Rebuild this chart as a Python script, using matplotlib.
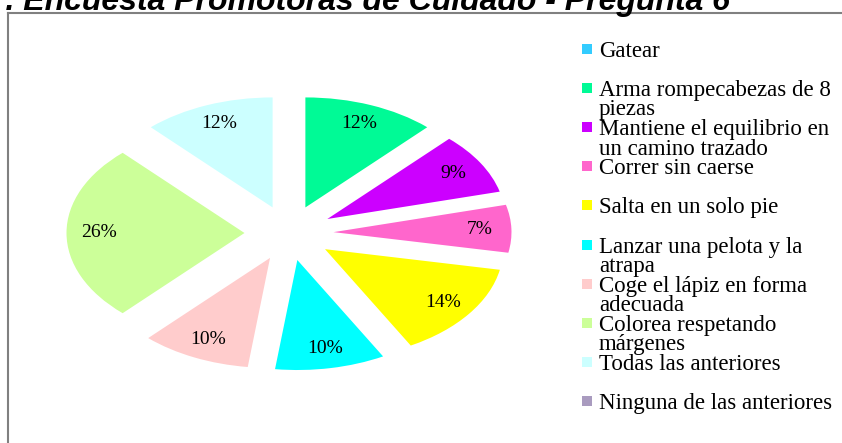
import matplotlib.pyplot as plt
from matplotlib.lines import Line2D
from matplotlib.patches import Rectangle

titulo = 'Gráfico 7. Encuesta Promotoras de Cuidado - Pregunta 6'
categorias = [
    'Gatear',
    'Arma rompecabezas de 8\npiezas',
    'Mantiene el equilibrio en\nun camino trazado',
    'Correr sin caerse',
    'Salta en un solo pie',
    'Lanzar una pelota y la\natrapa',
    'Coge el lápiz en forma\nadecuada',
    'Colorea respetando\nmárgenes',
    'Todas las anteriores',
    'Ninguna de las anteriores',
]
porcentajes = [0, 12, 9, 7, 14, 10, 10, 26, 12, 0]
colores = ['#33CCFF', '#00FA96', '#CC00FF', '#FF66CC', '#FFFF00',
           '#00FFFF', '#FFCCCC', '#CCFF99', '#CCFFFF', '#A99BBF']

W, H = 842, 443
fig = plt.figure(figsize=(W / 100, H / 100), dpi=100)

# pie is drawn as an ellipse: one unit is 178 px across and 110 px tall
cx, cy = 289, 210
rx, ry = 178, 110
ax = fig.add_axes([(cx - 1.5 * rx) / W, (cy - 1.5 * ry) / H, 3 * rx / W, 3 * ry / H])
ax.pie(porcentajes, colors=colores, startangle=90, counterclock=False,
       explode=[0.25] * len(porcentajes),
       autopct=lambda p: f'{p:.0f}%' if p > 0.5 else '',
       pctdistance=0.82,
       wedgeprops=dict(linewidth=0),
       textprops=dict(family='Liberation Serif', fontsize=14))
ax.set_aspect('auto')
ax.set_xlim(-1.5, 1.5)
ax.set_ylim(-1.5, 1.5)
ax.axis('off')

# legend on the right, one slot per category
for i, (lab, col) in enumerate(zip(categorias, colores)):
    y = 49 + 39.1 * i
    fig.patches.append(Rectangle((582 / W, (H - y - 5) / H), 10 / W, 10 / H,
                                 transform=fig.transFigure,
                                 facecolor=col, edgecolor='none'))
    fig.text(599 / W, (H - y + 8) / H, lab, ha='left', va='top',
             family='Liberation Serif', fontsize=16.5, linespacing=0.9)

# chart frame
borde = dict(color='#808080', linewidth=1.5, transform=fig.transFigure)
fig.add_artist(Line2D([8 / W, 1], [(H - 13) / H] * 2, **borde))
fig.add_artist(Line2D([8 / W] * 2, [(H - 13) / H, 0], **borde))

fig.text(730 / W, (H - 10) / H, titulo, ha='right', va='baseline',
         family='Liberation Sans', fontsize=23, fontweight='bold',
         fontstyle='italic')

fig.savefig('out.png', dpi=100)
